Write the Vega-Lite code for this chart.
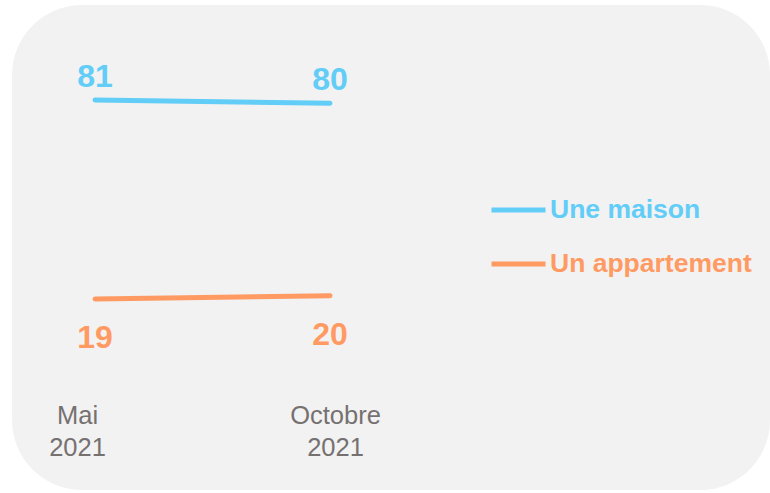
{
  "$schema": "https://vega.github.io/schema/vega-lite/v6.json",
  "width": 758,
  "height": 485,
  "autosize": {"type": "none"},
  "padding": {"left": 12, "top": 5, "right": 0, "bottom": 3},
  "background": "white",
  "config": {
    "view": {"fill": "#f2f2f2", "stroke": null, "cornerRadius": 70},
    "font": "Liberation Sans"
  },
  "data": {
    "values": [
      {"periode": "Mai 2021", "idx": 0, "type": "Une maison", "value": 81},
      {"periode": "Octobre 2021", "idx": 1, "type": "Une maison", "value": 80},
      {"periode": "Mai 2021", "idx": 0, "type": "Un appartement", "value": 19},
      {"periode": "Octobre 2021", "idx": 1, "type": "Un appartement", "value": 20}
    ]
  },
  "encoding": {
    "x": {
      "field": "idx",
      "type": "quantitative",
      "scale": {"domain": [-0.3532, 2.8723], "nice": false, "zero": false},
      "axis": {
        "title": null,
        "grid": false,
        "domain": false,
        "ticks": false,
        "values": [0, 1],
        "labelExpr": "datum.value == 0 ? ['Mai', '2021'] : ['Octobre', '2021']",
        "labelFontSize": 25.5,
        "labelColor": "#767171",
        "labelLineHeight": 32,
        "labelPadding": 0,
        "labelBaseline": "top",
        "offset": -87,
        "labelOffset": {"condition": {"test": "datum.value == 0", "value": -18}, "value": 5}
      }
    },
    "y": {
      "field": "value",
      "type": "quantitative",
      "scale": {"domain": [-40.5, 110.6], "nice": false, "zero": false},
      "axis": null
    },
    "color": {
      "field": "type",
      "type": "nominal",
      "scale": {"domain": ["Une maison", "Un appartement"], "range": ["#62cdf7", "#ff9a63"]},
      "legend": {
        "orient": "none",
        "legendX": 477,
        "legendY": 175.5,
        "title": null,
        "symbolType": "stroke",
        "symbolSize": 2916,
        "symbolStrokeWidth": 5,
        "labelFontSize": 26.5,
        "labelFontWeight": "bold",
        "labelColor": {"expr": "datum.value == 'Une maison' ? '#62cdf7' : '#ff9a63'"},
        "labelOffset": 2,
        "labelLimit": 400,
        "rowPadding": 11,
        "padding": 0
      }
    }
  },
  "layer": [
    {
      "mark": {"type": "line", "strokeWidth": 5, "strokeCap": "round"}
    },
    {
      "transform": [{"filter": "datum.type == 'Une maison'"}],
      "mark": {"type": "text", "dy": -23.5, "fontSize": 32, "fontWeight": "bold", "baseline": "middle"},
      "encoding": {"text": {"field": "value", "type": "quantitative"}}
    },
    {
      "transform": [{"filter": "datum.type == 'Un appartement'"}],
      "mark": {"type": "text", "dy": 39, "fontSize": 32, "fontWeight": "bold", "baseline": "middle"},
      "encoding": {"text": {"field": "value", "type": "quantitative"}}
    }
  ]
}
